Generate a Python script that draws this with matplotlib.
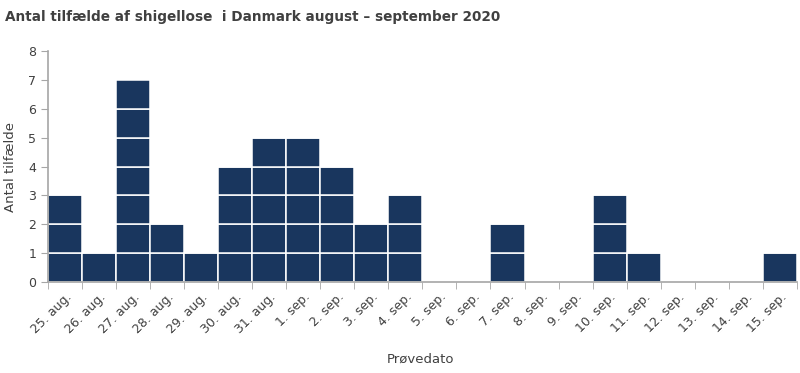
import matplotlib.pyplot as plt
import numpy as np

# daily counts
dates = ["25. aug.", "26. aug.", "27. aug.", "28. aug.", "29. aug.", "30. aug.",
         "31. aug.", "1. sep.", "2. sep.", "3. sep.", "4. sep.", "5. sep.",
         "6. sep.", "7. sep.", "8. sep.", "9. sep.", "10. sep.", "11. sep.",
         "12. sep.", "13. sep.", "14. sep.", "15. sep."]
cases = [3, 1, 7, 2, 1, 4, 5, 5, 4, 2, 3, 0, 0, 2, 0, 0, 3, 1, 0, 0, 0, 1]

bar_col = "#19365e"
grey = "#a6a6a6"
txt = "#404040"

fig = plt.figure(figsize=(8, 3.73), dpi=100)
ax = fig.add_axes([0.06, 0.244, 0.936, 0.619])

x = np.arange(len(cases))
v = np.array(cases)
# stack one box per case, so each case shows as its own cell
for k in range(v.max()):
    h = np.where(v > k, 1, 0)
    ax.bar(x, h, bottom=k, width=1.0, color=bar_col,
           edgecolor="white", linewidth=1.1)

ax.set_xlim(-0.5, len(cases) - 0.5)
ax.set_ylim(0, 8)
ax.set_yticks(range(0, 9))
ax.set_xticks(x)
ax.set_xticklabels(dates, rotation=45, ha="right", rotation_mode="anchor",
                   fontsize=9, color=txt)
ax.set_xticks(np.arange(-0.5, len(cases)), minor=True)
ax.tick_params(axis="x", which="major", length=0, pad=6)
ax.tick_params(axis="x", which="minor", length=5, color=grey)
ax.tick_params(axis="y", length=5, color=grey, labelsize=9, labelcolor=txt)

for s in ["top", "right"]:
    ax.spines[s].set_visible(False)
for s in ["left", "bottom"]:
    ax.spines[s].set_color(grey)
    ax.spines[s].set_linewidth(1.2)

ax.set_ylabel("Antal tilfælde", fontsize=9.5, color=txt, labelpad=8)
fig.text(0.525, 0.028, "Prøvedato", fontsize=9.5, color=txt, ha="center")
fig.text(0.006, 0.955, "Antal tilfælde af shigellose  i Danmark august \u2013 september 2020",
         fontsize=9.8, fontweight="bold", color=txt, va="center")

fig.savefig("out.png", dpi=100)
